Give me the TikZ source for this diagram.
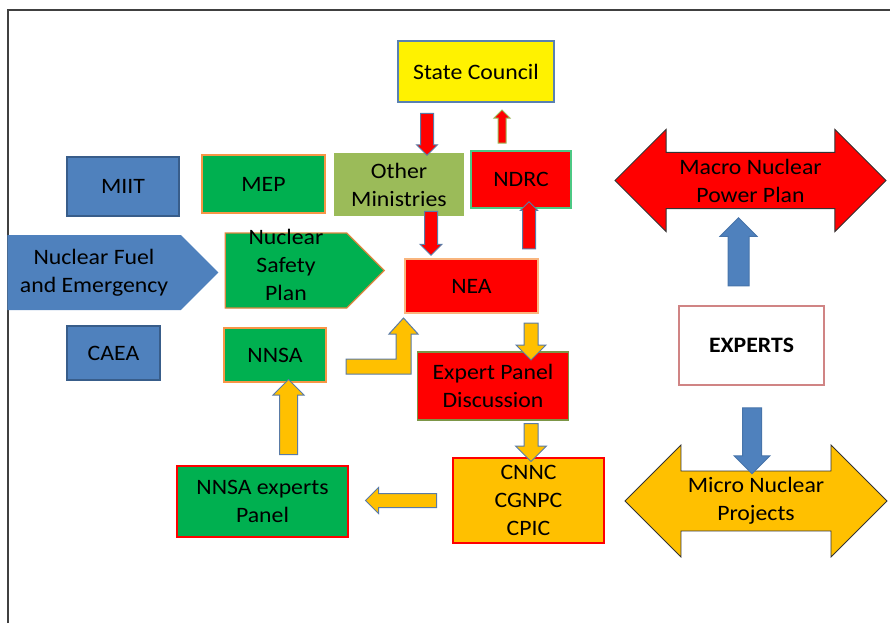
\documentclass[tikz,border=0pt]{standalone}
\usepackage{fontspec}
\setmainfont{Carlito}[FakeStretch=1.08]
\usetikzlibrary{positioning,shapes.arrows,shapes.symbols}
\definecolor{govblue}{HTML}{4F81BD}
\definecolor{govblueline}{HTML}{385D8A}
\definecolor{govgreen}{HTML}{00B050}
\definecolor{govorange}{HTML}{F79646}
\definecolor{govolive}{HTML}{9BBB59}
\definecolor{govgold}{HTML}{FFC000}
\definecolor{arrowline}{HTML}{5A7BA6}
\definecolor{expline}{HTML}{D08484}
\definecolor{frameline}{HTML}{404040}
\tikzset{
  every node/.style={text=black, font=\fontsize{22}{28}\selectfont, line width=1.2pt, align=center},
  box/.style={rectangle, inner sep=0pt},
  blk/.style={single arrow, inner xsep=0pt, line width=1pt, draw=arrowline, single arrow head indent=0pt},
  bigarrow/.style={double arrow, inner xsep=0pt, inner ysep=6pt, line width=0.8pt, draw=black!80}
}
\begin{document}
\begin{tikzpicture}[x=1pt, y=-1pt]
  \useasboundingbox (0,0) rectangle (890,623);
  \draw[frameline, line width=2pt] (8,623) -- (8,10) -- (890,10);

  % Nodes
  \node (council) [box, fill=yellow, draw=govblue!80!gray, minimum width=156pt, minimum height=61pt] at (476,71.5) {State Council};
  \node (miit) [box, fill=govblue, draw=govblueline, minimum width=112pt, minimum height=59pt] at (123,186.5) {MIIT};
  \node (mep) [box, fill=govgreen, draw=govorange, minimum width=123pt, minimum height=58pt] at (263.5,184) {MEP};
  \node (others) [box, fill=govolive, minimum width=130pt, minimum height=63pt] at (399,184.5) {Other\\Ministries};
  \node (ndrc) [box, fill=red, draw=govgreen!70, minimum width=100pt, minimum height=57pt] at (521,179.5) {NDRC};
  \node (fuel) [signal, signal to=east, signal pointer angle=90, fill=govblue, inner sep=0pt, minimum width=211pt, minimum height=75pt] at (94,272.5) {Nuclear Fuel\\and Emergency};
  \node (safety) [signal, signal to=east, signal pointer angle=90, fill=govgreen, draw=govorange!90!black, inner sep=0pt, minimum width=159pt, minimum height=75pt] at (286,270.5) {\smash{\parbox[c]{100pt}{\centering Nuclear\\Safety\\Plan}}};
  \node (nea) [box, fill=red, draw=govorange!70, minimum width=133pt, minimum height=54pt] at (471.5,286) {NEA};
  \node (caea) [box, fill=govblue, draw=govblueline, minimum width=93pt, minimum height=54pt] at (113.5,353) {CAEA};
  \node (nnsa) [box, fill=govgreen, draw=govorange, minimum width=102pt, minimum height=54pt] at (275,355) {NNSA};
  \node (panel) [box, fill=red, draw=govolive!80!black, minimum width=151pt, minimum height=68pt] at (493,386) {Expert Panel\\Discussion};
  \node (firms) [box, fill=govgold, draw=red, minimum width=151pt, minimum height=85pt] at (528.5,500.5) {CNNC\\CGNPC\\CPIC};
  \node (nnsapanel) [box, fill=govgreen, draw=red, minimum width=171pt, minimum height=71pt] at (262.5,501.5) {NNSA experts\\Panel};
  \node (experts) [box, fill=white, draw=expline, minimum width=145pt, minimum height=79pt] at (751.5,345.5) {\bfseries EXPERTS};
  \node (macro) [bigarrow, fill=red, double arrow head extend=23pt, minimum height=271pt] at (750.5,180.5) {Macro Nuclear\\Power Plan};
  \node (micro) [bigarrow, fill=govgold, double arrow head extend=26pt, minimum height=262pt] at (756,501) {Micro Nuclear\\Projects};

  % Block arrows between the boxes
  \node (a1) [blk, fill=red, rotate=-90, minimum height=42pt, inner ysep=6pt, single arrow head extend=4pt] at (427,131) {};
  \node (a2) [blk, fill=red, draw=govolive, rotate=90, minimum height=33pt, inner ysep=3.5pt, single arrow head extend=4pt] at (502,128.5) {};
  \node (a3) [blk, fill=red, rotate=-90, minimum height=44pt, inner ysep=6pt, single arrow head extend=4.5pt] at (431,230) {};
  \node (a4) [blk, fill=red, rotate=90, minimum height=47pt, inner ysep=6pt, single arrow head extend=2pt] at (529,228.5) {};
  \node (a5) [blk, fill=govgold, rotate=-90, minimum height=37pt, inner ysep=6.5pt, single arrow head extend=8pt] at (531,338) {};
  \node (a6) [blk, fill=govgold, rotate=-90, minimum height=38pt, inner ysep=6.5pt, single arrow head extend=8.5pt] at (531,439) {};
  \node (a7) [blk, fill=govgold, rotate=180, minimum height=71pt, inner ysep=6.5pt, single arrow head extend=6pt] at (404.5,500.5) {};
  \node (a8) [blk, fill=govgold, rotate=90, minimum height=75pt, inner ysep=8.5pt, single arrow head extend=6.5pt] at (288.5,421.5) {};
  \node (a9) [blk, fill=govblue, draw=govblue!90!black, rotate=90, minimum height=68pt, inner ysep=10pt, single arrow head extend=8pt] at (738.5,257) {};
  \node (a10) [blk, fill=govblue, draw=govblue!90!black, rotate=-90, minimum height=66pt, inner ysep=9pt, single arrow head extend=8.5pt] at (752,436) {};

  % bent arrow NNSA -> NEA
  \draw[fill=govgold, draw=arrowline, line width=1pt] (346,359) -- (396,359) -- (396,334) -- (389,334) -- (403.5,318) -- (418,334) -- (411,334) -- (411,374) -- (346,374) -- cycle;
\end{tikzpicture}
\end{document}
